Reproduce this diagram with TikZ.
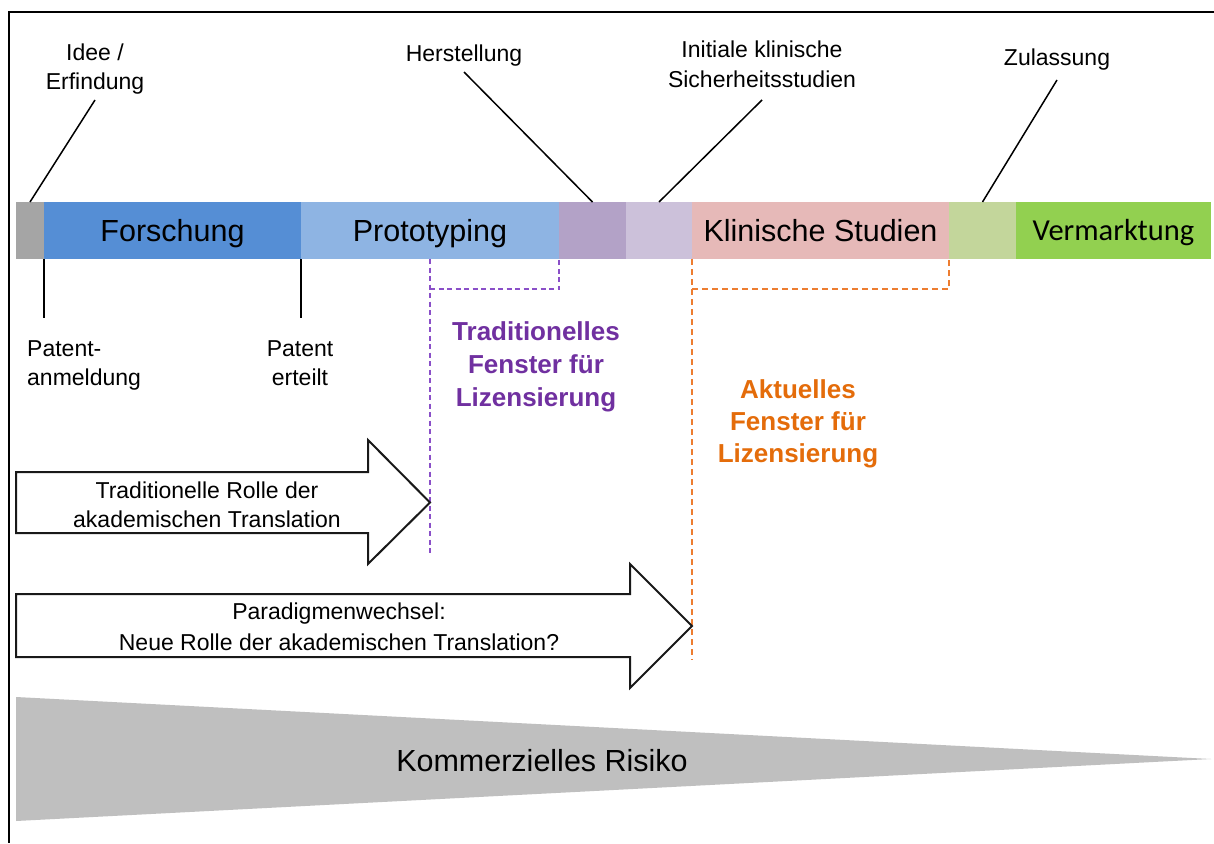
\documentclass[tikz,border=0pt]{standalone}
\usepackage{fontspec}
\setmainfont{Liberation Sans}
\newfontfamily\calibfont{Carlito}
\definecolor{cGray}{HTML}{A5A5A5}
\definecolor{cForsch}{HTML}{558ED5}
\definecolor{cProto}{HTML}{8EB4E3}
\definecolor{cHerst}{HTML}{B3A2C7}
\definecolor{cSich}{HTML}{CCC1DA}
\definecolor{cKlin}{HTML}{E6B9B8}
\definecolor{cZul}{HTML}{C3D69B}
\definecolor{cVerm}{HTML}{92D050}
\definecolor{cPurple}{HTML}{7030A0}
\definecolor{cPurpDash}{HTML}{8A4FC8}
\definecolor{cOrange}{HTML}{E46C0A}
\definecolor{cOrangeDash}{HTML}{ED7D31}
\definecolor{cRisk}{HTML}{BFBFBF}
\newcommand{\mystack}[2][c]{\begin{tabular}[t]{@{}#1@{}}#2\end{tabular}}
\begin{document}
\begin{tikzpicture}[x=1pt,y=-1pt,
  seg/.style={anchor=west, minimum width=#1pt, minimum height=57pt,
    inner sep=0pt, outer sep=0pt, draw=none,
    font=\fontsize{30.5}{36}\selectfont, text height=21.8pt, text depth=0pt},
  lbl/.style={anchor=base, inner sep=0pt, font=\fontsize{23}{29}\selectfont},
  wintext/.style={anchor=base, inner sep=0pt, font=\bfseries\fontsize{26}{33}\selectfont},
  conn/.style={line width=1.5pt, black},
  purpdash/.style={line width=1.5pt, cPurpDash, dash pattern=on 5pt off 3.5pt},
  orangedash/.style={line width=1.5pt, cOrangeDash, dash pattern=on 6pt off 4pt},
  bigarrow/.style={line width=2pt, fill=white, draw=black!90, line join=miter}]
\useasboundingbox (0,0) rectangle (1214,843);
\fill[white] (0,0) rectangle (1214,843);
% outer frame
\draw[line width=2pt] (1214,12) -- (9,12) -- (9,843);

% phase bar
\node[seg=28,  fill=cGray]   (gray)   at (16,230.5)  {};
\node[seg=257, fill=cForsch] (forsch) at (44,230.5)  {Forschung};
\node[seg=258, fill=cProto]  (proto)  at (301,230.5) {Prototyping};
\node[seg=67,  fill=cHerst]  (hst)    at (559,230.5) {};
\node[seg=66,  fill=cSich]   (sich)   at (626,230.5) {};
\node[seg=257, fill=cKlin]   (klin)   at (692,230.5) {Klinische Studien};
\node[seg=67,  fill=cZul]    (zul)    at (949,230.5) {};
\node[seg=195, fill=cVerm, font=\calibfont\fontsize{30.5}{36}\selectfont, text height=19.6pt]
  (verm) at (1016,230.5) {Vermarktung};

% milestone labels above the bar
\node[lbl] (idee) at (95,60) {\mystack{Idee /\\Erfindung}};
\coordinate (ideeEnd) at (95,100);
\draw[conn] (gray.north) -- (ideeEnd);

\node[lbl] (herst) at (464,61) {Herstellung};
\coordinate (herstEnd) at (464,72);
\draw[conn] (hst.north) -- (herstEnd);

\node[lbl] (initial) at (762,58) {\mystack{Initiale klinische\\Sicherheitsstudien}};
\coordinate (initEnd) at (762,100);
\draw[conn] (sich.north) -- (initEnd);

\node[lbl] (zulass) at (1057,65) {Zulassung};
\coordinate (zulEnd) at (1057,80);
\draw[conn] (zul.north) -- (zulEnd);

% patent labels below the bar
\node[lbl, anchor=base west] (anmeld) at (27,356) {\mystack[l]{Patent-\\anmeldung}};
\coordinate (anmEnd) at (44,318);
\draw[conn] (forsch.south west) -- (anmEnd);

\node[lbl] (erteilt) at (300,356) {\mystack{Patent\\erteilt}};
\coordinate (ertEnd) at (301,318);
\draw[conn] (forsch.south east) -- (ertEnd);

% licensing windows
\coordinate (tradBot) at (430,553);
\draw[purpdash] (proto.south) -- (tradBot);
\draw[purpdash] (proto.south) ++(0,30) -| (hst.south west);
\node[wintext, text=cPurple] (tradwin) at (536,340)
  {\mystack{Traditionelles\\Fenster für\\Lizensierung}};

\coordinate (aktBot) at (692,660);
\draw[orangedash] (klin.south west) -- (aktBot);
\draw[orangedash] (klin.south west) ++(0,30) -| (klin.south east);
\node[wintext, text=cOrange, font=\bfseries\fontsize{26}{32}\selectfont] (aktwin) at (798,398)
  {\mystack{Aktuelles\\Fenster für\\Lizensierung}};

% role arrows
\draw[bigarrow] (16,472) -- (368,472) -- (368,440) -- (430,502.5)
  -- (368,564) -- (368,533) -- (16,533) -- cycle;
\node[lbl] (tradrole) at (207,498) {\mystack{Traditionelle Rolle der\\akademischen Translation}};

\draw[bigarrow] (16,594) -- (630,594) -- (630,564) -- (692,626)
  -- (630,688) -- (630,657) -- (16,657) -- cycle;
\node[lbl, font=\fontsize{23}{31}\selectfont] (newrole) at (339,619)
  {\mystack{Paradigmenwechsel:\\Neue Rolle der akademischen Translation?}};

% commercial risk wedge
\fill[cRisk] (16,697) -- (16,821) -- (1211,759) -- cycle;
\node[anchor=base, inner sep=0pt, font=\fontsize{30.5}{36}\selectfont] (risk) at (542,771)
  {Kommerzielles Risiko};
\end{tikzpicture}
\end{document}
